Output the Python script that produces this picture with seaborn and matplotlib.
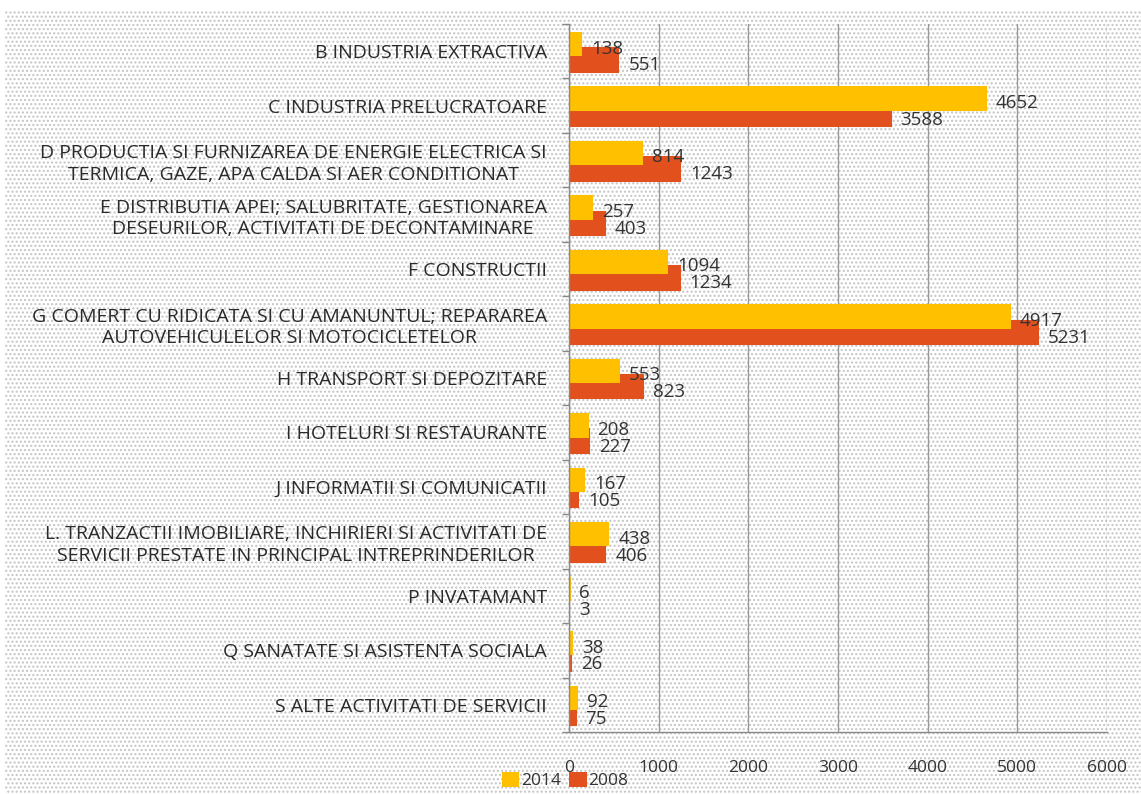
import numpy as np
import pandas as pd
import matplotlib
matplotlib.use("Agg")
import matplotlib.pyplot as plt
import seaborn as sns
from matplotlib.patches import Rectangle, Patch

categories = [
    "B INDUSTRIA EXTRACTIVA",
    "C INDUSTRIA PRELUCRATOARE",
    "D PRODUCTIA SI FURNIZAREA DE ENERGIE ELECTRICA SI\nTERMICA, GAZE, APA CALDA SI AER CONDITIONAT",
    "E DISTRIBUTIA APEI; SALUBRITATE, GESTIONAREA\nDESEURILOR, ACTIVITATI DE DECONTAMINARE",
    "F CONSTRUCTII",
    "G COMERT CU RIDICATA SI CU AMANUNTUL; REPARAREA\nAUTOVEHICULELOR SI MOTOCICLETELOR",
    "H TRANSPORT SI DEPOZITARE",
    "I HOTELURI SI RESTAURANTE",
    "J INFORMATII SI COMUNICATII",
    "L. TRANZACTII IMOBILIARE, INCHIRIERI SI ACTIVITATI DE\nSERVICII PRESTATE IN PRINCIPAL INTREPRINDERILOR",
    "P INVATAMANT",
    "Q SANATATE SI ASISTENTA SOCIALA",
    "S ALTE ACTIVITATI DE SERVICII",
]
values_2014 = [138, 4652, 814, 257, 1094, 4917, 553, 208, 167, 438, 6, 38, 92]
values_2008 = [551, 3588, 1243, 403, 1234, 5231, 823, 227, 105, 406, 3, 26, 75]
series_names = ["2014", "2008"]
x_ticks = [0, 1000, 2000, 3000, 4000, 5000, 6000]

colors = {"2014": "#FFC000", "2008": "#E2501E"}
offsets = {"2014": -0.13, "2008": 0.16}
label_offsets = {"2014": 0.08, "2008": 0.10}

idx = np.arange(len(categories))
df14 = pd.DataFrame({"pos": idx + offsets["2014"], "value": values_2014})
df08 = pd.DataFrame({"pos": idx + offsets["2008"], "value": values_2008})

sns.set_theme(style="white")
plt.rcParams["font.family"] = ["Open Sans", "DejaVu Sans"]

fig = plt.figure(figsize=(11.41, 7.94), dpi=100)
fig.patch.set_facecolor("white")
bg = Rectangle((0.004, 0.0), 0.996, 0.988, transform=fig.transFigure,
               facecolor="white", edgecolor="#c4c4c4", hatch="....",
               linewidth=0, zorder=-10)
fig.patches.append(bg)

ax = fig.add_axes([569 / 1141, 1 - 732 / 794, (1107 - 569) / 1141, (732 - 24) / 794])
ax.set_facecolor("none")

# 2008 behind, 2014 in front
sns.barplot(data=df08, y="pos", x="value", orient="h", native_scale=True,
            color=colors["2008"], saturation=1, width=0.43, ax=ax,
            linewidth=1.5, edgecolor=colors["2008"])
sns.barplot(data=df14, y="pos", x="value", orient="h", native_scale=True,
            color=colors["2014"], saturation=1, width=0.41, ax=ax,
            linewidth=1.5, edgecolor=colors["2014"])

ax.set_xlim(0, 6000)
ax.set_ylim(len(categories) - 0.5, -0.5)
ax.set_xticks(x_ticks)
ax.set_xticklabels([str(t) for t in x_ticks], fontsize=12.5, color="#333333")
ax.tick_params(axis="x", length=5, color="#888888", pad=15, width=1)
ax.set_yticks(idx)
ax.set_yticklabels(categories, fontsize=14, color="#2a2a2a", multialignment="center",
                   linespacing=1.25)
ax.tick_params(axis="y", which="major", length=0, pad=16)
ax.set_yticks(np.arange(-0.5, len(categories), 1), minor=True)
ax.tick_params(axis="y", which="minor", length=5, color="#888888", width=1, left=True)
ax.set_xlabel("")
ax.set_ylabel("")

ax.grid(axis="x", color="#999999", linewidth=1)
ax.set_axisbelow(True)
for s in ["top", "right"]:
    ax.spines[s].set_visible(False)
for s in ["left", "bottom"]:
    ax.spines[s].set_color("#888888")
    ax.spines[s].set_linewidth(1)

# value labels
for name, vals in (("2014", values_2014), ("2008", values_2008)):
    for i, v in enumerate(vals):
        ax.text(v + 110, i + offsets[name] + label_offsets[name], str(v),
                fontsize=13.5, color="#333333", ha="left", va="center")

handles = [Patch(facecolor=colors[n], edgecolor="none", label=n) for n in series_names]
fig.legend(handles=handles, loc="lower left", bbox_to_anchor=(486 / 1141, -0.014),
           ncol=2, frameon=False, fontsize=12.5, handlelength=1.0, handleheight=1.0,
           handletextpad=0.1, columnspacing=0.5, labelcolor="#333333")

fig.savefig("out.png", dpi=100)
